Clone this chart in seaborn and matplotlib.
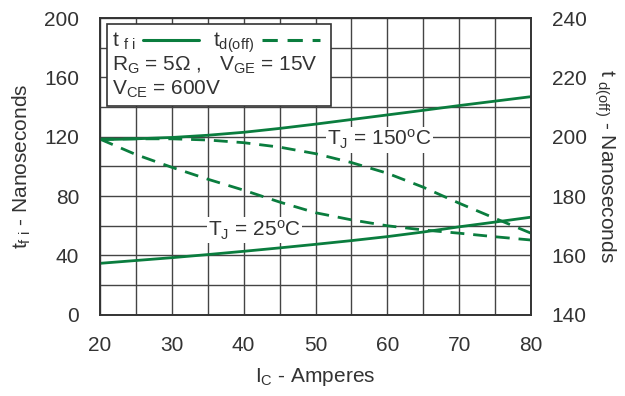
import numpy as np
import pandas as pd
import matplotlib
matplotlib.use("Agg")
import matplotlib.pyplot as plt
from matplotlib.lines import Line2D
from matplotlib.patches import Rectangle
from matplotlib.ticker import MultipleLocator
import seaborn as sns

# --- dados ---
ic = [20, 25, 30, 35, 40, 45, 50, 55, 60, 65, 70, 75, 80]
tfi_25 = [34.7, 36.6, 38.5, 40.6, 42.8, 45.1, 47.5, 50.0, 52.7, 55.8, 59.3, 62.5, 65.8]
tfi_150 = [118.0, 118.6, 119.5, 121.0, 123.0, 125.6, 128.5, 131.6, 134.7, 137.8, 141.0, 144.0, 147.0]
tdoff_25 = [199.2, 194.0, 189.7, 185.7, 182.0, 178.0, 174.4, 172.0, 170.0, 168.6, 167.5, 166.3, 165.2]
tdoff_150 = [199.2, 199.3, 199.3, 198.9, 198.0, 196.5, 194.3, 191.3, 187.7, 183.0, 177.6, 172.5, 167.5]

x_ticks = [20, 30, 40, 50, 60, 70, 80]
left_ticks = [0, 40, 80, 120, 160, 200]
right_ticks = [140, 160, 180, 200, 220, 240]

df = pd.DataFrame({"ic": ic, "tfi_25": tfi_25, "tfi_150": tfi_150,
                   "tdoff_25": tdoff_25, "tdoff_150": tdoff_150})

sns.set_style("white")
plt.rcParams["font.family"] = ["Liberation Sans", "DejaVu Sans"]
plt.rcParams["mathtext.fontset"] = "custom"
plt.rcParams["mathtext.rm"] = "Liberation Sans"
plt.rcParams["mathtext.it"] = "Liberation Sans"

green = "#0a7d3e"
txt = "#333333"

fig = plt.figure(figsize=(6.25, 3.96), dpi=100)
ax = fig.add_axes([0.16, 0.205, 0.6896, 0.7495])
ax2 = ax.twinx()

# curvas t_fi (eixo esquerdo)
sns.lineplot(data=df, x="ic", y="tfi_25", ax=ax, color=green, lw=2.0)
sns.lineplot(data=df, x="ic", y="tfi_150", ax=ax, color=green, lw=2.0)

# curvas t_d(off) (eixo direito)
for col in ["tdoff_25", "tdoff_150"]:
    sns.lineplot(data=df, x="ic", y=col, ax=ax2, color=green, lw=2.0)
for ln in ax2.get_lines():
    ln.set_dashes((5, 3.2))

ax.set_xlim(20, 80)
ax.set_ylim(0, 200)
ax2.set_ylim(140, 240)
ax.set_xticks(x_ticks)
ax.set_yticks(left_ticks)
ax2.set_yticks(right_ticks)
ax.xaxis.set_minor_locator(MultipleLocator(5))
ax.yaxis.set_minor_locator(MultipleLocator(20))
ax.grid(True, which="both", color="#444444", lw=1.0)
ax2.grid(False)

for a in (ax, ax2):
    a.tick_params(which="both", length=0, labelsize=15, labelcolor=txt, pad=15)
    for s in a.spines.values():
        s.set_color("#333333")
        s.set_linewidth(1.2)

ax.set_xlabel(r"$\mathregular{I_C}$ - Amperes", fontsize=15, color=txt, labelpad=8)
ax.set_ylabel(r"$\mathregular{t_{f\ i}}$ - Nanoseconds", fontsize=15, color=txt, labelpad=8)
ax2.set_ylabel(r"t $\mathregular{_{d(off)}}$ - Nanoseconds", fontsize=15, color=txt,
               rotation=270, labelpad=22)
ax.set_ylabel(ax.get_ylabel())

# rótulos das temperaturas
bbox = dict(facecolor="white", edgecolor="none", pad=1.0)
ax.text(58.9, 118, r"$\mathregular{T_J}$ = 150$\mathregular{^oC}$", fontsize=15, color=txt,
        ha="center", va="center", bbox=bbox, zorder=5)
ax.text(41.5, 57, r"$\mathregular{T_J}$ = 25$\mathregular{^oC}$", fontsize=15, color=txt,
        ha="center", va="center", bbox=bbox, zorder=5)

# caixa da legenda
ax2.add_patch(Rectangle((0.0155, 0.703), 0.5215, 0.277, transform=ax2.transAxes,
                        facecolor="white", edgecolor="#333333", lw=1.2, zorder=6))
ax2.text(0.028, 0.905, r"t $\mathregular{_{f\ i}}$", transform=ax2.transAxes, fontsize=15,
         color=txt, va="baseline", zorder=7)
ax2.add_line(Line2D([0.1, 0.2297], [0.926, 0.926], transform=ax2.transAxes,
                    color=green, lw=2.2, zorder=7))
ax2.text(0.262, 0.905, r"t$\mathregular{_{d(off)}}$", transform=ax2.transAxes, fontsize=15,
         color=txt, va="baseline", zorder=7)
ax2.add_line(Line2D([0.376, 0.51], [0.926, 0.926], transform=ax2.transAxes,
                    color=green, lw=2.2, dashes=(5, 3.2), zorder=7))
ax2.text(0.028, 0.822, r"$\mathregular{R_G}$ = 5$\Omega$ ,   $\mathregular{V_{GE}}$ = 15V",
         transform=ax2.transAxes, fontsize=15, color=txt, va="baseline", zorder=7)
ax2.text(0.028, 0.741, r"$\mathregular{V_{CE}}$ = 600V", transform=ax2.transAxes,
         fontsize=15, color=txt, va="baseline", zorder=7)

fig.savefig("out.png", dpi=100)
